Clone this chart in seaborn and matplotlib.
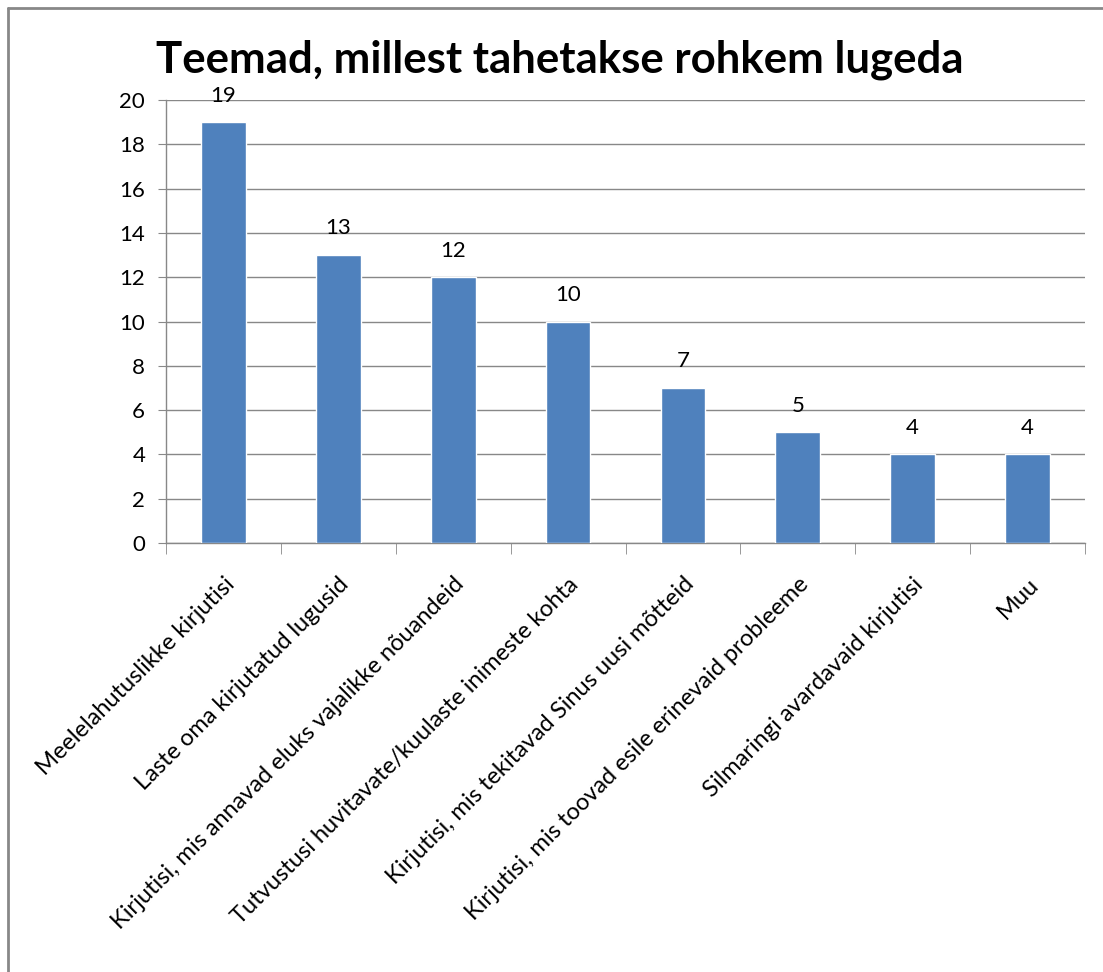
import matplotlib
matplotlib.use("Agg")
import matplotlib.pyplot as plt
import seaborn as sns
import pandas as pd
import numpy as np
from matplotlib.lines import Line2D

# data
teemad = [
    "Meelelahutuslikke kirjutisi",
    "Laste oma kirjutatud lugusid",
    "Kirjutisi, mis annavad eluks vajalikke nõuandeid",
    "Tutvustusi huvitavate/kuulaste inimeste kohta",
    "Kirjutisi, mis tekitavad Sinus uusi mõtteid",
    "Kirjutisi, mis toovad esile erinevaid probleeme",
    "Silmaringi avardavaid kirjutisi",
    "Muu",
]
vastused = [19, 13, 12, 10, 7, 5, 4, 4]
y_ticks = list(range(0, 21, 2))

df = pd.DataFrame({"teema": teemad, "arv": vastused})

sns.set_style("white")
plt.rcParams["font.family"] = ["Lato", "DejaVu Sans"]

fig = plt.figure(figsize=(11.03, 9.72), dpi=100)
ax = fig.add_axes([166 / 1103, 1 - 543 / 972, (1085 - 166) / 1103, (543 - 100) / 972])

sns.barplot(data=df, x="teema", y="arv", color="#4F81BD", width=0.39,
            saturation=1, ax=ax, zorder=3)

ax.set_ylim(0, 20)
ax.set_xlim(-0.5, len(teemad) - 0.5)
ax.set_yticks(y_ticks)
ax.yaxis.grid(True, color="#888888", linewidth=1, zorder=0)
ax.set_axisbelow(True)
ax.set_xlabel("")
ax.set_ylabel("")

for side in ["top", "right"]:
    ax.spines[side].set_visible(False)
for side in ["left", "bottom"]:
    ax.spines[side].set_color("#888888")
    ax.spines[side].set_linewidth(1)

ax.tick_params(axis="y", length=6, color="#888888", labelsize=16, pad=9,
               direction="out", left=True, labelcolor="black")
ax.set_xticks(np.arange(len(teemad)))
ax.set_xticklabels(teemad, rotation=45, ha="right", rotation_mode="anchor",
                   fontsize=17, color="black")
ax.tick_params(axis="x", length=0, pad=22)
ax.set_xticks(np.arange(len(teemad) + 1) - 0.5, minor=True)
ax.tick_params(axis="x", which="minor", length=8, color="#888888",
               direction="out", bottom=True)

for i, v in enumerate(vastused):
    ax.text(i, v + 0.75, str(v), ha="center", va="bottom", fontsize=16,
            color="black")

fig.text(156 / 1103, 1 - 60 / 972, "Teemad, millest tahetakse rohkem lugeda",
         fontsize=31.5, fontweight="bold", ha="left", va="center",
         color="black")

# outer chart border (only left and top edges fall inside the image)
bx, by = 8 / 1103, 1 - 8 / 972
fig.add_artist(Line2D([bx, bx], [0, by], transform=fig.transFigure,
                      color="#888888", linewidth=2))
fig.add_artist(Line2D([bx, 1], [by, by], transform=fig.transFigure,
                      color="#888888", linewidth=2))

fig.savefig("out.png", dpi=100, facecolor="white")
